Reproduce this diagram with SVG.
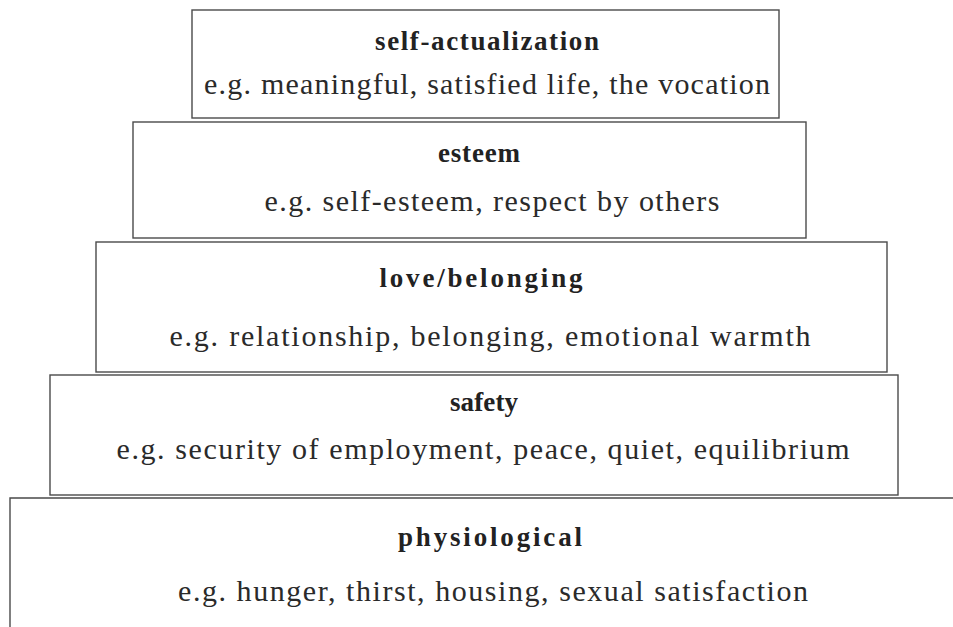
<svg xmlns="http://www.w3.org/2000/svg" width="953" height="627" viewBox="0 0 953 627">
  <style>
    .box { fill: #ffffff; stroke: #4a4a4a; stroke-width: 1.4; }
    .title { font-family: "Liberation Serif", "Times New Roman", serif; font-weight: bold; font-size: 27px; fill: #222222; text-anchor: middle; }
    .body { font-family: "Liberation Serif", "Times New Roman", serif; font-size: 30px; fill: #2a2a2a; text-anchor: middle; }
  </style>
  <rect x="0" y="0" width="953" height="627" fill="#ffffff"/>

  <g id="self-actualization">
    <rect class="box" x="192" y="10" width="587" height="108"/>
    <text class="title" x="487" y="50" textLength="224" lengthAdjust="spacing">self-actualization</text>
    <text class="body" x="487" y="94" textLength="566" lengthAdjust="spacing">e.g. meaningful, satisfied life, the vocation</text>
  </g>

  <g id="esteem">
    <rect class="box" x="133" y="122" width="673" height="116"/>
    <text class="title" x="479" y="162" textLength="82" lengthAdjust="spacing">esteem</text>
    <text class="body" x="492" y="211" textLength="455" lengthAdjust="spacing">e.g. self-esteem, respect by others</text>
  </g>

  <g id="love-belonging">
    <rect class="box" x="96" y="242" width="791" height="130"/>
    <text class="title" x="481" y="287" textLength="203" lengthAdjust="spacing">love/belonging</text>
    <text class="body" x="490" y="346" textLength="641" lengthAdjust="spacing">e.g. relationship, belonging, emotional warmth</text>
  </g>

  <g id="safety">
    <rect class="box" x="50" y="375" width="848" height="120"/>
    <text class="title" x="484" y="411" textLength="68" lengthAdjust="spacing">safety</text>
    <text class="body" x="483" y="459" textLength="733" lengthAdjust="spacing">e.g. security of employment, peace, quiet, equilibrium</text>
  </g>

  <g id="physiological">
    <path class="box" fill="none" d="M10,627 V498 H953"/>
    <text class="title" x="490" y="546" textLength="184" lengthAdjust="spacing">physiological</text>
    <text class="body" x="493" y="601" textLength="630" lengthAdjust="spacing">e.g. hunger, thirst, housing, sexual satisfaction</text>
  </g>

  <g id="connectors"></g>
</svg>
